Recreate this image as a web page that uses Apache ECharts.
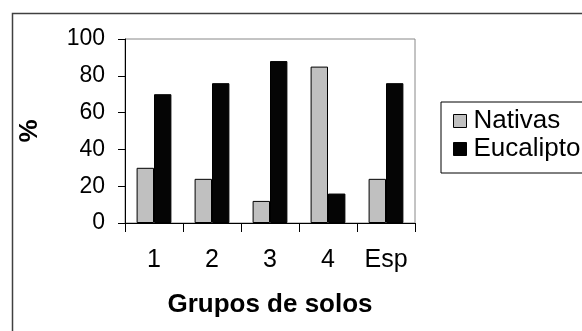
<!DOCTYPE html>
<html>
<head>
<meta charset="utf-8">
<script src="https://cdn.jsdelivr.net/npm/echarts@6/dist/echarts.min.js"></script>
<style>
html,body{margin:0;padding:0;background:#fff;}
#c{width:582px;height:331px;}
</style>
</head>
<body>
<div id="c"></div>
<script>
const categories = ['1', '2', '3', '4', 'Esp'];
const nativas = [30, 24, 12, 85, 24];
const eucalipto = [70, 76, 88, 16, 76];
const yTicks = [0, 20, 40, 60, 80, 100];

const FONT = '"Liberation Sans", Arial, sans-serif';
const chart = echarts.init(document.getElementById('c'), null, {renderer: 'canvas'});
chart.setOption({
  animation: false,
  backgroundColor: '#fff',
  graphic: [{
    type: 'rect', left: 10, top: 11, z: -10,
    shape: {width: 620, height: 400},
    style: {fill: 'none', stroke: '#404040', lineWidth: 1.5}
  }],
  grid: {
    left: 125, top: 39, right: 167, bottom: 108,
    show: true, borderColor: '#888', borderWidth: 1, backgroundColor: 'transparent'
  },
  legend: {
    orient: 'vertical',
    left: 441, top: 102,
    padding: [5, 14, 10, 12],
    itemGap: 0,
    itemWidth: 13, itemHeight: 13,
    icon: 'rect',
    borderColor: '#000', borderWidth: 1,
    textStyle: {fontFamily: FONT, fontSize: 26, color: '#000', lineHeight: 28, padding: [0, 0, 0, 2]},
    data: [
      {name: 'Nativas', itemStyle: {color: '#c0c0c0', borderColor: '#000', borderWidth: 1}},
      {name: 'Eucalipto', itemStyle: {color: '#000', borderColor: '#000', borderWidth: 1}}
    ]
  },
  xAxis: {
    type: 'category',
    data: categories,
    name: 'Grupos de solos',
    nameLocation: 'middle',
    nameGap: 69,
    nameTextStyle: {fontFamily: FONT, fontSize: 26, fontWeight: 'bold', color: '#000'},
    axisLine: {lineStyle: {color: '#000', width: 1}},
    axisTick: {show: true, length: 9, lineStyle: {color: '#000'}},
    axisLabel: {fontFamily: FONT, fontSize: 25, color: '#000', margin: 25}
  },
  yAxis: {
    type: 'value',
    min: 0, max: 100, interval: 20,
    name: '%',
    nameLocation: 'middle',
    nameGap: 82,
    nameRotate: 90,
    nameTextStyle: {fontFamily: FONT, fontSize: 26, fontWeight: 'bold', color: '#000'},
    axisLine: {show: true, lineStyle: {color: '#000', width: 1}},
    axisTick: {show: true, length: 7, lineStyle: {color: '#000'}},
    splitLine: {show: false},
    axisLabel: {fontFamily: FONT, fontSize: 23, color: '#000', margin: 20,
      formatter: v => yTicks.includes(v) ? String(v) : ''}
  },
  series: [
    {name: 'Nativas', type: 'bar', data: nativas, barGap: '0%', barCategoryGap: '40%',
     itemStyle: {color: '#c0c0c0', borderColor: '#000', borderWidth: 1}},
    {name: 'Eucalipto', type: 'bar', data: eucalipto, barGap: '0%', barCategoryGap: '40%',
     itemStyle: {color: '#050505', borderColor: '#000', borderWidth: 1}}
  ]
});
</script>
</body>
</html>
